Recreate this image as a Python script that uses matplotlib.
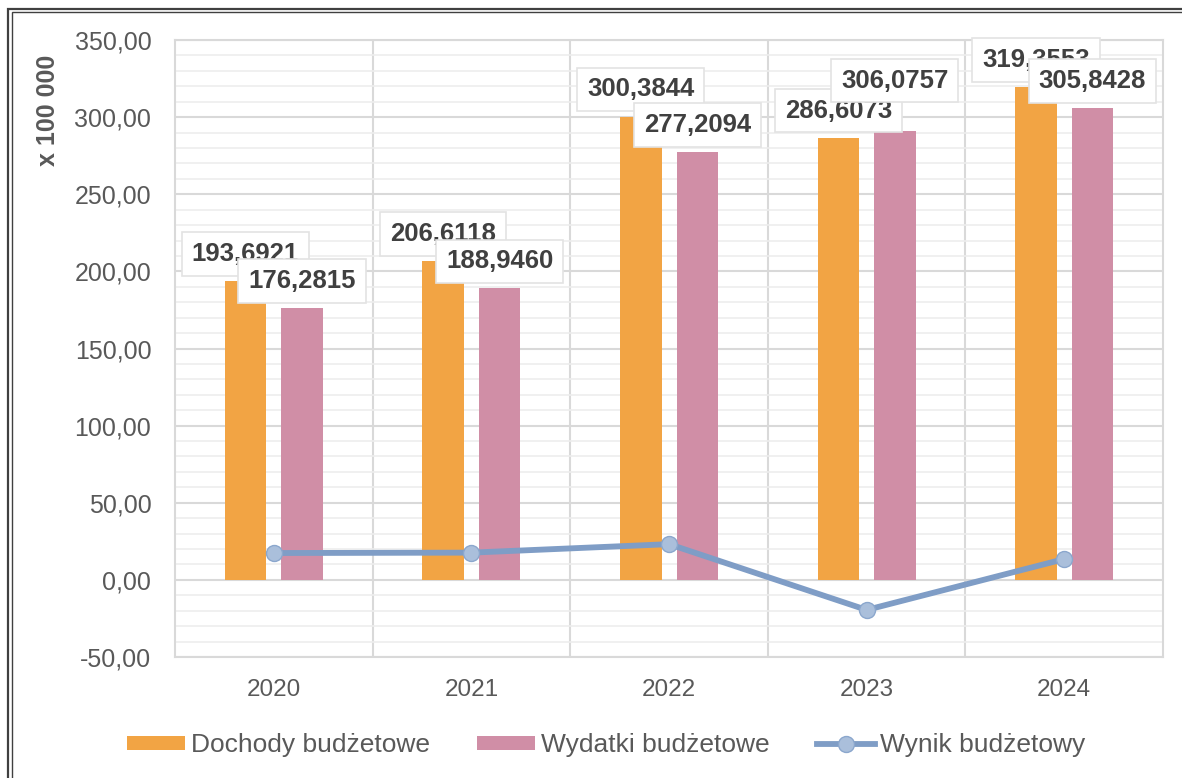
import matplotlib.pyplot as plt
import numpy as np
from matplotlib.patches import Rectangle
from matplotlib.ticker import MultipleLocator, FuncFormatter

plt.rcParams['font.family'] = ['Liberation Sans', 'DejaVu Sans']

# dane (mln zł x 100 000)
lata = ['2020', '2021', '2022', '2023', '2024']
dochody = [193.6921, 206.6118, 300.3844, 286.6073, 319.3553]
wydatki = [176.2815, 188.9460, 277.2094, 306.0757, 305.8428]
# wysokość słupków wydatków (2023 narysowany niżej niż etykieta)
wydatki_slupki = [176.2815, 188.9460, 277.2094, 291.1, 305.8428]
wynik = [17.41, 17.67, 23.17, -19.47, 13.51]
etykiety_doch = ['193,6921', '206,6118', '300,3844', '286,6073', '319,3553']
etykiety_wyd = ['176,2815', '188,9460', '277,2094', '306,0757', '305,8428']

c_doch = '#F2A444'
c_wyd = '#D08EA6'
c_wynik = '#7F9DC6'
szary = '#595959'

fig = plt.figure(figsize=(11.82, 7.78), dpi=100)
ax = fig.add_axes([0.148, 0.1555, 0.836, 0.7931])

x = np.arange(len(lata))
w = 0.21
off = 0.143

b1 = ax.bar(x - off, dochody, w, color=c_doch, label='Dochody budżetowe', zorder=3)
b2 = ax.bar(x + off, wydatki_slupki, w, color=c_wyd, label='Wydatki budżetowe', zorder=3)
l1, = ax.plot(x, wynik, color=c_wynik, linewidth=4.2, marker='o', markersize=11.5,
              markerfacecolor='#AABFDB', markeredgecolor='#8BA7CD', markeredgewidth=1,
              label='Wynik budżetowy', zorder=4)

# etykiety danych
box = dict(boxstyle='square,pad=0.38', facecolor='white', edgecolor='#E3E3E3', linewidth=1.2)
for i in range(len(lata)):
    ax.annotate(etykiety_doch[i], (x[i] - off, dochody[i]), xytext=(0, 19.5),
                textcoords='offset points', ha='center', va='center',
                fontsize=18.5, fontweight='bold', color='#404040', bbox=box, zorder=5)
    ax.annotate(etykiety_wyd[i], (x[i] + off, wydatki[i]), xytext=(0, 19.5),
                textcoords='offset points', ha='center', va='center',
                fontsize=18.5, fontweight='bold', color='#404040', bbox=box, zorder=6)

ax.set_xlim(-0.5, 4.5)
ax.set_ylim(-50, 350)
ax.yaxis.set_major_locator(MultipleLocator(50))
ax.yaxis.set_minor_locator(MultipleLocator(10))
ax.yaxis.set_major_formatter(FuncFormatter(lambda v, p: f'{v:.2f}'.replace('.', ',')))
ax.set_xticks(x)
ax.set_xticklabels(lata)
ax.tick_params(axis='y', which='both', length=0, pad=17, labelsize=18, labelcolor=szary)
ax.tick_params(axis='x', length=0, pad=16, labelsize=17.5, labelcolor=szary)

ax.grid(True, axis='y', which='major', color='#D9D9D9', linewidth=1.5, zorder=0)
ax.grid(True, axis='y', which='minor', color='#EDEDED', linewidth=1.2, zorder=0)
for b in np.arange(0.5, 4.5, 1):
    ax.axvline(b, color='#D9D9D9', linewidth=1.5, zorder=0)
for s in ax.spines.values():
    s.set_color('#D9D9D9')
    s.set_linewidth(1.5)

fig.text(48 / 1182, 1 - 110 / 778, 'x 100 000', rotation=90, ha='center', va='center',
         fontsize=18, fontweight='bold', color=szary)

leg = fig.legend([b1, b2, l1], ['Dochody budżetowe', 'Wydatki budżetowe', 'Wynik budżetowy'],
                 loc='center', bbox_to_anchor=(0.513, 1 - 745 / 778), ncol=3, frameon=False,
                 fontsize=19, handlelength=2.2, handleheight=0.45, handletextpad=0.2,
                 columnspacing=1.8)
for t in leg.get_texts():
    t.set_color(szary)

# podwójna ramka (przycięta z prawej i od dołu)
fig.add_artist(Rectangle((8 / 1182, -0.1), 1.2, 1.1 - 9 / 778, transform=fig.transFigure,
                         fill=False, edgecolor='#404040', linewidth=1.6))
fig.add_artist(Rectangle((11.5 / 1182, -0.1), 1.2, 1.1 - 12.5 / 778, transform=fig.transFigure,
                         fill=False, edgecolor='#404040', linewidth=1.0))

fig.savefig('out.png', dpi=100)
